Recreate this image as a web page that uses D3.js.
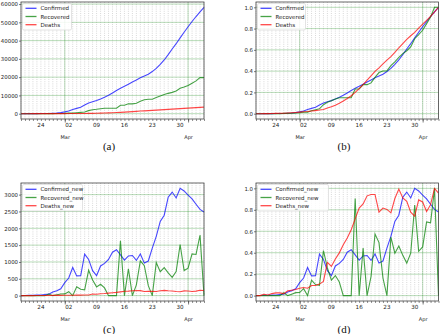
<!DOCTYPE html>
<html>
<head>
<meta charset="utf-8">
<script src="https://cdn.jsdelivr.net/npm/d3@7"></script>
<style>
  body { margin: 0; background: #fff; }
  svg { display: block; }
  text { font-family: "DejaVu Sans", sans-serif; fill: #222; }
  .caption { font-family: "Liberation Serif", serif; font-size: 11px; fill: #111; }
</style>
</head>
<body>
<div id="chart"></div>
<script>
// daily data, 19 Feb - 05 Apr
var first_day = new Date(2020, 1, 19);
var last_day  = new Date(2020, 3, 5);
var days = d3.timeDay.range(first_day, d3.timeDay.offset(last_day, 1));

var confirmed = [2, 5, 18, 28, 43, 61, 95, 139, 245, 388, 593,
  978, 1501, 2336, 2922, 3513, 4747, 5823, 6566, 7161, 8042, 9000, 10075, 11364, 12729, 13938,
  14991, 16169, 17361, 18407, 19644, 20610, 21638, 23049, 24811, 27017, 29406, 32332, 35408,
  38309, 41495, 44605, 47593, 50468, 53183, 55743, 58226];
var recovered = [0, 0, 0, 0, 0, 0, 0, 49, 49, 73, 123,
  175, 291, 291, 552, 739, 913, 1669, 2134, 2394, 2731, 2959, 2959, 2959, 2959, 4590,
  4590, 5389, 5389, 5710, 6745, 7635, 7931, 7931, 8913, 9625, 10457, 11133, 11679,
  12391, 13911, 14656, 15473, 16711, 17935, 19736, 19736];
var deaths = [2, 2, 4, 5, 8, 12, 16, 19, 26, 34, 43,
  54, 66, 77, 92, 107, 124, 145, 194, 237, 291, 354, 429, 514, 611, 724,
  853, 988, 1135, 1284, 1433, 1556, 1685, 1812, 1934, 2077, 2234, 2378, 2517,
  2640, 2757, 2898, 3036, 3160, 3294, 3452, 3603];

var confirmed_new = [0, 3, 13, 10, 15, 18, 34, 44, 106, 143, 205,
  385, 523, 835, 586, 591, 1234, 1076, 743, 595, 881, 958, 1075, 1289, 1365, 1209,
  1053, 1178, 1192, 1046, 1237, 966, 1028, 1411, 1762, 2206, 2389, 2926, 3076,
  2901, 3186, 3110, 2988, 2875, 2715, 2560, 2483];
var recovered_new = [0, 0, 0, 0, 0, 0, 0, 49, 0, 24, 50,
  52, 116, 0, 261, 187, 174, 756, 465, 260, 337, 228, 0, 0, 0, 1631,
  0, 799, 0, 321, 1035, 890, 296, 0, 982, 712, 832, 676, 546,
  712, 1520, 745, 817, 1238, 1224, 1801, 0];
var deaths_new = [0, 0, 2, 1, 3, 4, 4, 3, 7, 8, 9,
  11, 12, 11, 15, 15, 17, 21, 49, 43, 54, 63, 75, 85, 97, 113,
  129, 135, 147, 149, 149, 123, 129, 127, 122, 143, 157, 144, 139,
  123, 117, 141, 138, 124, 134, 158, 151];

var names_total = ['Confirmed', 'Recovered', 'Deaths'];
var names_new   = ['Confirmed_new', 'Recovered_new', 'Deaths_new'];
var colors      = ['#0000ff', '#008000', '#ff0000'];

var ticks_total = [0, 10000, 20000, 30000, 40000, 50000, 60000];
var ticks_new   = [0, 500, 1000, 1500, 2000, 2500, 3000];
var ticks_norm  = [0, 0.2, 0.4, 0.6, 0.8, 1.0];

var width  = 440;
var height = 334;
var svg = d3.select('#chart')
    .append('svg')
    .attr('width', width)
    .attr('height', height);

// min-max scaling of one series to 0..1
function normalise(values) {
    var s = d3.scaleLinear().domain(d3.extent(values)).range([0, 1]);
    return values.map(s);
}

function panel(p) {
    var g = svg.append('g');

    var scale_x = d3.scaleTime()
        .domain([first_day, last_day])
        .range([p.left, p.right]);

    // matplotlib style 5% margin on y
    var lo = d3.min(p.series, function(s){ return d3.min(s); });
    var hi = d3.max(p.series, function(s){ return d3.max(s); });
    var pad = (hi - lo) * 0.05;
    var scale_y = d3.scaleLinear()
        .domain([lo - pad, hi + pad])
        .range([p.bottom, p.top]);

    // daily dotted grid
    g.selectAll('.minor')
        .data(days)
        .enter().append('line')
        .attr('x1', function(d){ return scale_x(d); })
        .attr('x2', function(d){ return scale_x(d); })
        .attr('y1', p.top).attr('y2', p.bottom)
        .attr('stroke', '#c0c0c0')
        .attr('stroke-width', 0.6)
        .attr('stroke-dasharray', '1,1.2');

    // month grid
    var months = d3.timeMonth.range(first_day, last_day);
    g.selectAll('.major')
        .data(months)
        .enter().append('line')
        .attr('x1', function(d){ return scale_x(d); })
        .attr('x2', function(d){ return scale_x(d); })
        .attr('y1', p.top).attr('y2', p.bottom)
        .attr('stroke', '#008000')
        .attr('stroke-opacity', 0.22)
        .attr('stroke-width', 1.2);

    g.selectAll('.hgrid')
        .data(p.ticks)
        .enter().append('line')
        .attr('x1', p.left).attr('x2', p.right)
        .attr('y1', function(d){ return scale_y(d); })
        .attr('y2', function(d){ return scale_y(d); })
        .attr('stroke', '#008000')
        .attr('stroke-opacity', 0.28)
        .attr('stroke-width', 1);

    // series
    var line = d3.line()
        .x(function(d, i){ return scale_x(days[i]); })
        .y(function(d){ return scale_y(d); });
    p.series.forEach(function(s, k) {
        g.append('path')
            .datum(s)
            .attr('fill', 'none')
            .attr('stroke', colors[k])
            .attr('stroke-opacity', 0.72)
            .attr('stroke-width', 1.1)
            .attr('d', line);
    });

    // frame
    g.append('rect')
        .attr('x', p.left).attr('y', p.top)
        .attr('width', p.right - p.left)
        .attr('height', p.bottom - p.top)
        .attr('fill', 'none')
        .attr('stroke', '#444')
        .attr('stroke-width', 0.8);

    // y axis
    var axis_y = d3.axisLeft(scale_y)
        .tickValues(p.ticks)
        .tickSize(2)
        .tickPadding(1)
        .tickFormat(p.format);
    var ay = g.append('g')
        .attr('transform', 'translate(' + p.left + ',0)')
        .call(axis_y);
    ay.select('.domain').remove();
    ay.selectAll('line').attr('stroke', '#444').attr('stroke-width', 0.7);
    ay.selectAll('text').attr('font-size', 5.4).attr('font-family', 'DejaVu Sans').attr('fill', '#222');

    // x axis: daily ticks, weekly day labels, month labels below
    var axis_x = d3.axisBottom(scale_x)
        .tickValues(days)
        .tickSize(2)
        .tickFormat('');
    var ax = g.append('g')
        .attr('transform', 'translate(0,' + p.bottom + ')')
        .call(axis_x);
    ax.select('.domain').remove();
    ax.selectAll('line').attr('stroke', '#444').attr('stroke-width', 0.6);

    var axis_month = d3.axisBottom(scale_x)
        .tickValues(months)
        .tickSize(3.5)
        .tickPadding(13)
        .tickFormat(d3.timeFormat('%b'));
    var am = g.append('g')
        .attr('transform', 'translate(0,' + p.bottom + ')')
        .call(axis_month);
    am.select('.domain').remove();
    am.selectAll('line').attr('stroke', '#444').attr('stroke-width', 0.7);
    am.selectAll('text').attr('font-size', 5).attr('font-family', 'DejaVu Sans').attr('fill', '#333');

    var mondays = d3.timeMonday.range(first_day, last_day);
    g.selectAll('.wk')
        .data(mondays)
        .enter().append('text')
        .attr('x', function(d){ return scale_x(d); })
        .attr('y', p.bottom + 7.5)
        .attr('text-anchor', 'middle')
        .attr('font-size', 5.6)
        .text(d3.timeFormat('%d'));

    // legend
    var lg = g.append('g')
        .attr('transform', 'translate(' + (p.left + 1.5) + ',' + (p.top + 1.5) + ')');
    lg.append('rect')
        .attr('width', p.legend_w).attr('height', 26.5)
        .attr('rx', 1.5)
        .attr('fill', '#fff')
        .attr('fill-opacity', 0.85)
        .attr('stroke', '#d0d0d0')
        .attr('stroke-width', 0.6);
    p.names.forEach(function(n, k) {
        var yy = 4.8 + k * 8.2;
        lg.append('line')
            .attr('x1', 3).attr('x2', 14)
            .attr('y1', yy).attr('y2', yy)
            .attr('stroke', colors[k])
            .attr('stroke-opacity', 0.72)
            .attr('stroke-width', 1.3);
        lg.append('text')
            .attr('x', 18).attr('y', yy + 2)
            .attr('font-size', 5.5)
            .text(n);
    });

    svg.append('text')
        .attr('class', 'caption')
        .attr('x', p.cap_x)
        .attr('y', p.cap_y)
        .attr('text-anchor', 'middle')
        .text(p.caption);
}

panel({ left: 21, right: 204, top: 2, bottom: 119,
        series: [confirmed, recovered, deaths], names: names_total,
        ticks: ticks_total, format: d3.format('d'), legend_w: 49,
        caption: '(a)', cap_x: 109, cap_y: 150 });

panel({ left: 256, right: 438.5, top: 2, bottom: 119,
        series: [normalise(confirmed), normalise(recovered), normalise(deaths)], names: names_total,
        ticks: ticks_norm, format: d3.format('.1f'), legend_w: 48,
        caption: '(b)', cap_x: 344, cap_y: 150 });

panel({ left: 21, right: 204, top: 183, bottom: 301,
        series: [confirmed_new, recovered_new, deaths_new], names: names_new,
        ticks: ticks_new, format: d3.format('d'), legend_w: 60,
        caption: '(c)', cap_x: 109, cap_y: 333 });

panel({ left: 256, right: 438.5, top: 183, bottom: 301,
        series: [normalise(confirmed_new), normalise(recovered_new), normalise(deaths_new)], names: names_new,
        ticks: ticks_norm, format: d3.format('.1f'), legend_w: 71,
        caption: '(d)', cap_x: 344, cap_y: 333 });
</script>
</body>
</html>
